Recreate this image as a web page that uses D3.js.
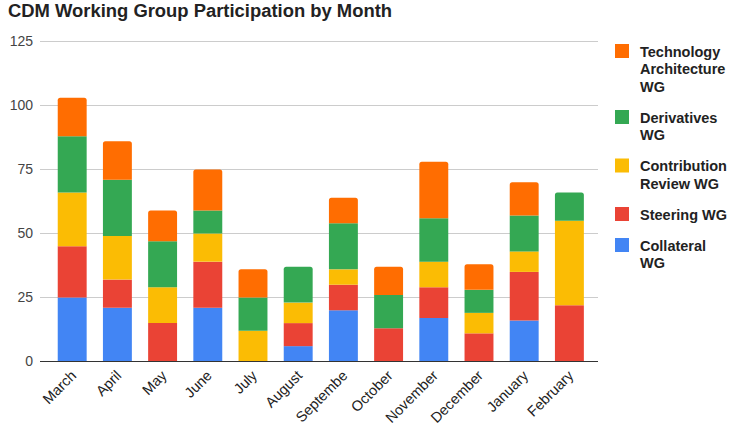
<!DOCTYPE html>
<html>
<head>
<meta charset="utf-8">
<script src="https://cdn.jsdelivr.net/npm/d3@7"></script>
<style>
  html, body { margin: 0; padding: 0; background: #fff; }
  svg { display: block; font-family: "Liberation Sans", Arial, sans-serif; }
</style>
</head>
<body>
<svg id="chart" width="731" height="433"></svg>
<script>
const months = ["March","April","May","June","July","August","Septembe","October","November","December","January","February"];
const collateral   = [25,21,0,21,0,6,20,0,17,0,16,0];
const steering     = [20,11,15,18,0,9,10,13,12,11,19,22];
const contribution = [21,17,14,11,12,8,6,0,10,8,8,33];
const derivatives  = [22,22,18,9,13,14,18,13,17,9,14,11];
const technology   = [15,15,12,16,11,0,10,11,22,10,13,0];
const yTicks = [0,25,50,75,100,125];

const seriesNames = ["Collateral WG","Steering WG","Contribution Review WG","Derivatives WG","Technology Architecture WG"];
const seriesValues = [collateral, steering, contribution, derivatives, technology];
const seriesColors = ["#4285f4","#ea4335","#fbbc04","#34a853","#ff6d01"];
const legendLines = [["Technology","Architecture","WG"],["Derivatives","WG"],["Contribution","Review WG"],["Steering WG"],["Collateral","WG"]];

const svg = d3.select("#chart");
const plotLeft = 40, plotRight = 598;

const x = d3.scaleBand().domain(months).range([49.6, 592]).paddingInner(0.36).paddingOuter(0.18);
const y = d3.scaleLinear().domain([0,125]).range([361.5, 41.5]);

// title
svg.append("text").attr("x", 8).attr("y", 17)
  .attr("font-size", 17.5).attr("font-weight", "bold").attr("fill", "#222")
  .attr("textLength", 384).attr("lengthAdjust", "spacingAndGlyphs")
  .text("CDM Working Group Participation by Month");

// gridlines
svg.append("g").selectAll("line").data(yTicks.filter(d => d > 0)).join("line")
  .attr("x1", plotLeft).attr("x2", plotRight)
  .attr("y1", d => y(d)).attr("y2", d => y(d))
  .attr("stroke", "#cccccc").attr("stroke-width", 1);

// y axis labels
const yAxis = d3.axisLeft(y).tickValues(yTicks).tickSize(0).tickPadding(7);
const yg = svg.append("g").attr("transform", `translate(${plotLeft},0)`).call(yAxis);
yg.select(".domain").remove();
yg.selectAll("text").attr("font-size", 14).attr("fill", "#444").attr("font-family", "Liberation Sans, Arial, sans-serif");

// stacked data
const rows = months.map((m, i) => {
  const r = { month: m };
  seriesNames.forEach((s, k) => r[s] = seriesValues[k][i]);
  return r;
});
const stack = d3.stack().keys(seriesNames)(rows);

const topIdx = months.map((m, i) => {
  let t = -1;
  seriesValues.forEach((v, k) => { if (v[i] > 0) t = k; });
  return t;
});

function barPath(x0, y0, w, h, rounded) {
  const r = rounded ? Math.min(2.5, h / 2) : 0;
  const p = d3.path();
  p.moveTo(x0, y0 + h);
  p.lineTo(x0, y0 + r);
  if (r) p.arcTo(x0, y0, x0 + r, y0, r);
  p.lineTo(x0 + w - r, y0);
  if (r) p.arcTo(x0 + w, y0, x0 + w, y0 + r, r);
  p.lineTo(x0 + w, y0 + h);
  p.closePath();
  return p.toString();
}

svg.append("g").selectAll("g").data(stack).join("g")
  .attr("fill", (d, k) => seriesColors[k])
  .each(function(layer, k) {
    d3.select(this).selectAll("path").data(layer.filter(d => d[1] > d[0])).join("path")
      .attr("d", d => {
        const i = months.indexOf(d.data.month);
        const top = y(d[1]), bot = y(d[0]);
        return barPath(x(d.data.month), top, x.bandwidth(), bot - top, topIdx[i] === k);
      });
  });

// baseline
svg.append("line").attr("x1", plotLeft).attr("x2", plotRight)
  .attr("y1", y(0)).attr("y2", y(0)).attr("stroke", "#333").attr("stroke-width", 1.2);

// x labels
svg.append("g").selectAll("text").data(months).join("text")
  .attr("transform", d => `translate(${x(d) + x.bandwidth() / 2 + 5},${y(0) + 15}) rotate(-45)`)
  .attr("text-anchor", "end").attr("font-size", 14.5).attr("fill", "#222")
  .text(d => d);

// legend
const legend = svg.append("g");
let baseY = 56.5;
const lineH = 17.5;
const order = [4,3,2,1,0];
order.forEach((k, j) => {
  const lines = legendLines[j];
  legend.append("rect").attr("x", 615).attr("y", baseY - 12.5).attr("width", 14).attr("height", 14)
    .attr("fill", seriesColors[k]);
  const t = legend.append("text").attr("x", 640).attr("y", baseY)
    .attr("font-size", 14.5).attr("font-weight", "bold").attr("fill", "#222");
  lines.forEach((ln, li) => {
    t.append("tspan").attr("x", 640).attr("y", baseY + li * lineH).text(ln);
  });
  baseY += (lines.length - 1) * lineH + 31;
});
</script>
</body>
</html>
